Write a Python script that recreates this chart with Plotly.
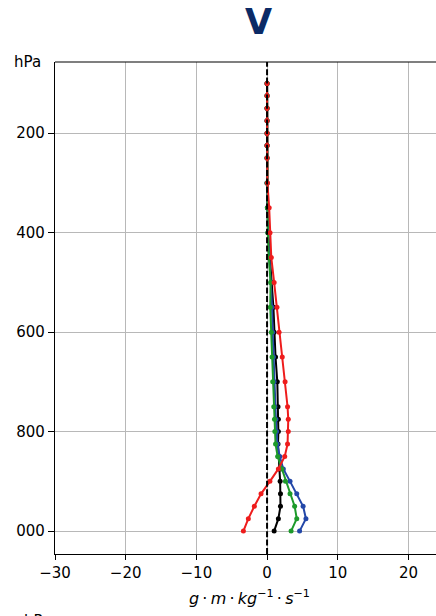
import plotly.graph_objects as go

levels = [100, 125, 150, 175, 200, 225, 250, 300, 350, 400, 450, 500, 550, 600,
          650, 700, 750, 775, 800, 825, 850, 875, 900, 925, 950, 975, 1000]

red = [0.0, 0.0, 0.0, 0.0, 0.0, 0.0, 0.0, 0.05, 0.3, 0.42, 0.6, 1.0, 1.4, 1.7,
       2.15, 2.55, 2.9, 3.0, 3.0, 2.9, 2.5, 1.6, 0.4, -0.85, -1.8, -2.65, -3.35]
black = [0.0, 0.0, 0.0, 0.0, 0.0, 0.0, 0.0, 0.0, 0.05, 0.15, 0.35, 0.65, 0.9, 1.0,
         1.2, 1.45, 1.55, 1.6, 1.6, 1.55, 1.6, 1.75, 1.85, 1.9, 1.9, 1.6, 1.0]
green = [0.0, 0.0, 0.0, 0.0, 0.0, 0.0, 0.0, 0.0, 0.05, 0.1, 0.25, 0.5, 0.45, 0.6,
         0.7, 0.8, 0.95, 1.05, 1.1, 1.2, 1.5, 2.1, 2.6, 3.25, 3.9, 4.2, 3.4]
blue = [0.0, 0.0, 0.0, 0.0, 0.0, 0.0, 0.0, 0.0, 0.05, 0.15, 0.35, 0.6, 0.7, 0.8,
        0.9, 1.0, 1.1, 1.25, 1.35, 1.45, 1.8, 2.3, 3.25, 4.2, 5.1, 5.5, 4.6]

series = [("black", black, "#000000"), ("blue", blue, "#2347a8"),
          ("green", green, "#1d9a2a"), ("red", red, "#ee1c1c")]

x_ticks = [-30, -20, -10, 0, 10, 20]
x_ticktext = ["\u221230", "\u221220", "\u221210", "0", "10", "20"]
y_ticks = [200, 400, 600, 800, 1000]
y_ticktext = ["200", "400", "600", "800", "000"]

FONT = "DejaVu Sans"
W, H = 436, 616
PL, PT, PW, PH = 55, 62, 381, 492

fig = go.Figure()
for name, vals, col in series:
    fig.add_trace(go.Scatter(
        x=vals, y=levels, mode="lines+markers", name=name,
        line=dict(color=col, width=2),
        marker=dict(color=col, size=5),
        showlegend=False, hoverinfo="skip"))

fig.add_shape(type="line", xref="x", yref="paper", x0=0, x1=0, y0=0, y1=1,
              line=dict(color="black", width=2, dash="6px,2.4px"), layer="above")
fig.add_shape(type="line", xref="paper", yref="paper", x0=0, x1=1, y0=1, y1=1,
              line=dict(color="black", width=1.2), layer="above")


def px(xp):
    return (xp - PL) / PW


def py(yp):
    return (PT + PH - yp) / PH


fig.update_layout(
    width=W, height=H,
    margin=dict(l=PL, r=0, t=PT, b=H - PT - PH, pad=0),
    paper_bgcolor="white", plot_bgcolor="white",
    hovermode=False,
    font=dict(family=FONT, size=15, color="black"),
    xaxis=dict(range=[-30, 23.9], tickvals=x_ticks, ticktext=x_ticktext,
               showgrid=True, gridcolor="#b8b8b8", gridwidth=1, zeroline=False,
               showline=True, linecolor="black", linewidth=1.2,
               ticks="outside", ticklen=5, tickcolor="black",
               tickfont=dict(family=FONT, size=15)),
    yaxis=dict(range=[1046, 57], tickvals=y_ticks, ticktext=y_ticktext,
               showgrid=True, gridcolor="#b8b8b8", gridwidth=1, zeroline=False,
               showline=True, linecolor="black", linewidth=1.2,
               ticks="outside", ticklen=6, tickcolor="black",
               tickfont=dict(family=FONT, size=15)),
    annotations=[
        dict(text="<b>V</b>", xref="paper", yref="paper", x=px(258), y=py(22),
             xanchor="center", yanchor="middle", showarrow=False,
             font=dict(family=FONT, size=35, color="#0b2a66")),
        dict(text="hPa", xref="paper", yref="paper", x=px(27.5), y=py(62),
             xanchor="center", yanchor="middle", showarrow=False,
             font=dict(family=FONT, size=15)),
        dict(text="<i>g</i>\u2009\u00b7\u2009<i>m</i>\u2009\u00b7\u2009<i>kg</i><sup>\u22121</sup>\u2009\u00b7\u2009<i>s</i><sup>\u22121</sup>",
             xref="paper", yref="paper", x=px(249), y=py(597),
             xanchor="center", yanchor="middle", showarrow=False,
             font=dict(family=FONT, size=16)),
        dict(text="hPa", xref="paper", yref="paper", x=px(37), y=py(621),
             xanchor="center", yanchor="middle", showarrow=False,
             font=dict(family=FONT, size=15)),
    ],
)

fig.write_html("out.html", config={"displayModeBar": False, "staticPlot": True},
               post_script="document.body.style.margin='0';document.body.style.overflow='hidden';")
